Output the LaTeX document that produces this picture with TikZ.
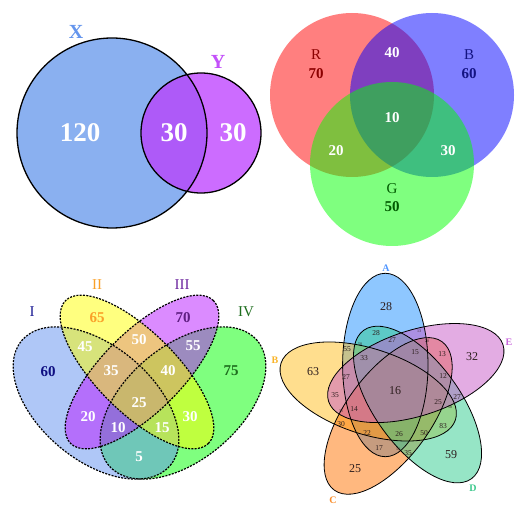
\documentclass[tikz,border=0pt]{standalone}
\usepackage{fontspec}
\setmainfont{Liberation Serif}
\usetikzlibrary{calc}
\definecolor{Xfill}{RGB}{138,176,240}
\definecolor{Yfill}{RGB}{204,108,255}
\definecolor{XYfill}{RGB}{174,90,248}
\definecolor{Xlab}{RGB}{100,149,237}
\definecolor{Ylab}{RGB}{195,80,250}
\definecolor{darkR}{RGB}{140,0,0}
\definecolor{darkB}{RGB}{20,20,130}
\definecolor{darkG}{RGB}{0,90,0}
\definecolor{cI}{RGB}{97,145,241}
\definecolor{cII}{RGB}{255,255,0}
\definecolor{cIII}{RGB}{185,25,255}
\definecolor{cIV}{RGB}{0,255,0}
\definecolor{tI}{RGB}{30,30,150}
\definecolor{tIn}{RGB}{15,15,130}
\definecolor{tII}{RGB}{250,160,40}
\definecolor{tIII}{RGB}{110,40,160}
\definecolor{tIIIn}{RGB}{95,30,130}
\definecolor{tIV}{RGB}{30,110,30}
\definecolor{cA}{RGB}{30,144,255}
\definecolor{cB}{RGB}{255,190,30}
\definecolor{cC}{RGB}{255,115,0}
\definecolor{cD}{RGB}{46,204,143}
\definecolor{cE}{RGB}{200,90,200}
\definecolor{lA}{RGB}{80,150,255}
\definecolor{lB}{RGB}{250,180,40}
\definecolor{lC}{RGB}{250,140,40}
\definecolor{lD}{RGB}{60,200,140}
\definecolor{lE}{RGB}{200,100,220}
\definecolor{ntext}{RGB}{45,30,30}
\begin{document}
\begin{tikzpicture}[x=1pt,y=1pt,
  every node/.style={inner sep=0pt},
  wbig/.style={text=white,font=\fontsize{27}{27}\selectfont\bfseries},
  wmid/.style={text=white,font=\fontsize{15}{15}\selectfont\bfseries},
  cmid/.style={font=\fontsize{15}{15}\selectfont\bfseries},
  lmid/.style={font=\fontsize{15}{15}\selectfont},
  ellline/.style={line width=1.2pt,dash pattern=on 2pt off 1.3pt},
  fiveline/.style={line width=0.8pt},
  fbig/.style={text=ntext,font=\fontsize{12}{12}\selectfont},
  fmid/.style={text=ntext,font=\fontsize{7.5}{7.5}\selectfont},
  ftiny/.style={text=ntext,font=\fontsize{4}{4}\selectfont},
  flab/.style={font=\fontsize{10}{10}\selectfont\bfseries}]
\useasboundingbox (0,0) rectangle (532,514);
\fill[white] (0,0) rectangle (532,514);

% ---------- Panel 1: X and Y ----------
\coordinate (cX) at (112,381);
\coordinate (cY) at (201,381);
\fill[Xfill] (cX) circle (95);
\fill[Yfill] (cY) circle (60);
\begin{scope}
  \clip (cX) circle (95);
  \fill[XYfill] (cY) circle (60);
\end{scope}
\draw[line width=1.3pt] (cX) circle (95) (cY) circle (60);
\node[text=Xlab,font=\fontsize{20}{20}\selectfont\bfseries] (labX) at (76,482) {X};
\node[text=Ylab,font=\fontsize{20}{20}\selectfont\bfseries] (labY) at (218,452) {Y};
\node[wbig] (n120) at (80,381) {120};
\node[wbig] (nXY) at (174,381) {30};
\node[wbig] (nY) at (233,381) {30};

% ---------- Panel 2: R G B ----------
\coordinate (cR) at (352,419);
\coordinate (cBl) at (432,419);
\coordinate (cG) at (392,350);
\fill[red,fill opacity=0.5] (cR) circle (82);
\fill[blue,fill opacity=0.5] (cBl) circle (82);
\fill[green,fill opacity=0.5] (cG) circle (82);
\node[lmid,text=darkR] (labR) at (316,459) {R};
\node[cmid,text=darkR] (nR) at (316,440) {70};
\node[lmid,text=darkB] (labB) at (469,459) {B};
\node[cmid,text=darkB] (nB) at (469,440) {60};
\node[lmid,text=darkG] (labG) at (392,325) {G};
\node[cmid,text=darkG] (nG) at (392,307) {50};
\node[wmid] (nRB) at (392,461) {40};
\node[wmid] (nRGB) at (392,396) {10};
\node[wmid] (nRG) at (336,363) {20};
\node[wmid] (nBG) at (448,363) {30};

% ---------- Panel 3: four ellipses ----------
\coordinate (eI) at (96,111);
\coordinate (eIV) at (183,111);
\coordinate (eII) at (137,142);
\coordinate (eIII) at (142,142);
\fill[cIV,fill opacity=0.5,shift={(eIV)},rotate=40] (0,0) ellipse (97 and 57);
\fill[cI,fill opacity=0.5,shift={(eI)},rotate=-40] (0,0) ellipse (97 and 57);
\fill[cIII,fill opacity=0.5,shift={(eIII)},rotate=45] (0,0) ellipse (101 and 40);
\fill[cII,fill opacity=0.5,shift={(eII)},rotate=-45] (0,0) ellipse (101 and 40);
\draw[ellline,shift={(eIV)},rotate=40] (0,0) ellipse (97 and 57);
\draw[ellline,shift={(eI)},rotate=-40] (0,0) ellipse (97 and 57);
\draw[ellline,shift={(eIII)},rotate=45] (0,0) ellipse (101 and 40);
\draw[ellline,shift={(eII)},rotate=-45] (0,0) ellipse (101 and 40);
\node[lmid,text=tI] (labI) at (32,202) {I};
\node[lmid,text=tII] (labII) at (97,229) {II};
\node[lmid,text=tIII] (labIII) at (182,229) {III};
\node[lmid,text=tIV] (labIV) at (246,202) {IV};
\node[cmid,text=tIn] (n60) at (48,142) {60};
\node[cmid,text=tII] (n65) at (97,196) {65};
\node[cmid,text=tIIIn] (n70) at (183,196) {70};
\node[cmid,text=tIV] (n75) at (231,143) {75};
\node[wmid] (n45) at (85,167) {45};
\node[wmid] (n50) at (139,174) {50};
\node[wmid] (n55) at (193,168) {55};
\node[wmid] (n35) at (111,143) {35};
\node[wmid] (n40) at (168,143) {40};
\node[wmid] (n25) at (139,111) {25};
\node[wmid] (n20) at (88,97) {20};
\node[wmid] (n30) at (190,97) {30};
\node[wmid] (n10) at (118,86) {10};
\node[wmid] (n15) at (162,86) {15};
\node[wmid] (n5) at (139,57) {5};

% ---------- Panel 4: five ellipses ----------
\coordinate (O) at (395,124);
\coordinate (fA) at ($(O)+(90:25)+(180:9.7)$);
\coordinate (fB) at ($(O)+(162:25)+(252:9.7)$);
\coordinate (fC) at ($(O)+(234:25)+(324:9.7)$);
\coordinate (fD) at ($(O)+(306:25)+(36:9.7)$);
\coordinate (fE) at ($(O)+(18:25)+(108:9.7)$);
\fill[cA,fill opacity=0.5,shift={(fA)},rotate=90] (0,0) ellipse (91.7 and 42.7);
\fill[cB,fill opacity=0.5,shift={(fB)},rotate=162] (0,0) ellipse (91.7 and 42.7);
\fill[cC,fill opacity=0.5,shift={(fC)},rotate=234] (0,0) ellipse (91.7 and 42.7);
\fill[cD,fill opacity=0.5,shift={(fD)},rotate=306] (0,0) ellipse (91.7 and 42.7);
\fill[cE,fill opacity=0.5,shift={(fE)},rotate=18] (0,0) ellipse (91.7 and 42.7);
\draw[fiveline,shift={(fA)},rotate=90] (0,0) ellipse (91.7 and 42.7);
\draw[fiveline,shift={(fB)},rotate=162] (0,0) ellipse (91.7 and 42.7);
\draw[fiveline,shift={(fC)},rotate=234] (0,0) ellipse (91.7 and 42.7);
\draw[fiveline,shift={(fD)},rotate=306] (0,0) ellipse (91.7 and 42.7);
\draw[fiveline,shift={(fE)},rotate=18] (0,0) ellipse (91.7 and 42.7);
\node[flab,text=lA] (labA) at (386,246) {A};
\node[flab,text=lB] (labBB) at (275,154) {B};
\node[flab,text=lC] (labC) at (333,14) {C};
\node[flab,text=lD] (labD) at (473,26) {D};
\node[flab,text=lE] (labE) at (509,172) {E};
\node[fbig] (m28) at (386,207) {28};
\node[fbig] (m63) at (313,142) {63};
\node[fbig] (m32) at (472,157) {32};
\node[fbig] (m25) at (355,45) {25};
\node[fbig] (m59) at (451,59) {59};
\node[fbig] (m16) at (395,123) {16};
\node[fmid] (s28) at (376,181) {28};
\node[ftiny] (s13a) at (419,183) {13};
\node[fmid] (s27a) at (392,174) {27};
\node[fmid] (s55) at (347,165) {55};
\node[ftiny] (s50a) at (360,170) {50};
\node[ftiny] (s28b) at (427,173) {28};
\node[fmid] (s13b) at (442,160) {13};
\node[fmid] (s15) at (415,162) {15};
\node[fmid] (s33) at (364,156) {33};
\node[fmid] (s27b) at (346,137) {27};
\node[fmid] (s12) at (443,138) {12};
\node[fmid] (s35a) at (335,119) {35};
\node[fmid] (s27c) at (457,117) {27};
\node[fmid] (s25) at (438,112) {25};
\node[ftiny] (s50b) at (450,107) {50};
\node[fmid] (s14) at (354,105) {14};
\node[ftiny] (s31) at (341,103) {31};
\node[fmid] (s30) at (341,90) {30};
\node[fmid] (s22) at (367,81) {22};
\node[fmid] (s26) at (399,80) {26};
\node[fmid] (s50c) at (424,81) {50};
\node[fmid] (s83) at (443,88) {83};
\node[fmid] (s17) at (379,66) {17};
\node[ftiny] (s16) at (398,65) {16};
\node[fmid] (s35b) at (408,61) {35};
\end{tikzpicture}
\end{document}
